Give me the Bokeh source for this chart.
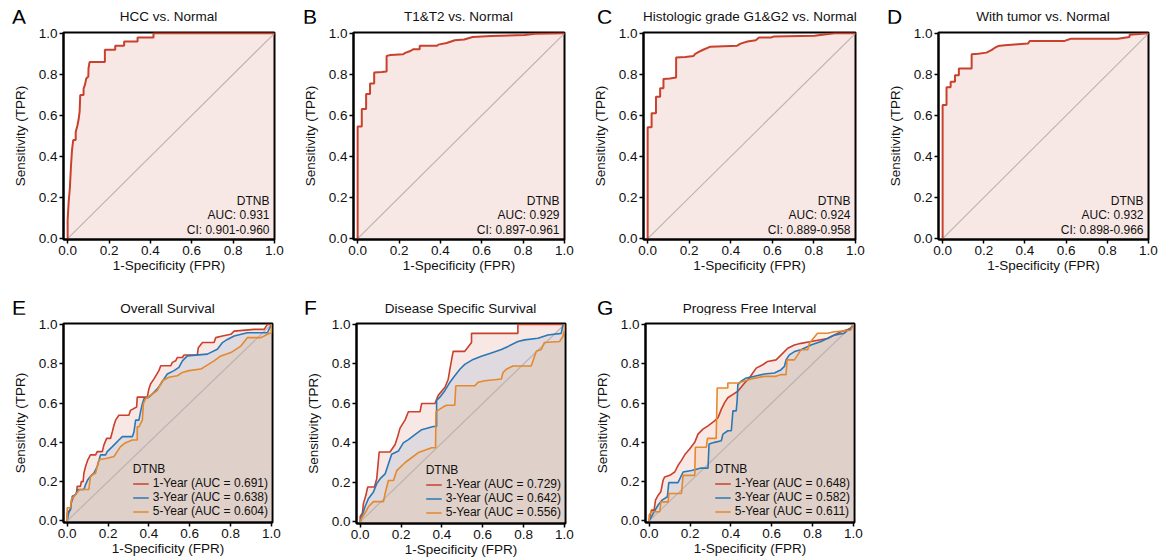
from bokeh.plotting import figure
from bokeh.layouts import column, row
from bokeh.models import (Label, Legend, LegendItem, FixedTicker,
                          PrintfTickFormatter, Range1d, Div)
from bokeh.embed import file_html
from bokeh.resources import INLINE

# ---------------- data (fpr, tpr) ----------------
LETTERS = ["A", "B", "C", "D", "E", "F", "G"]
TITLES = ["HCC vs. Normal", "T1&amp;T2 vs. Normal", "Histologic grade G1&amp;G2 vs. Normal",
          "With tumor vs. Normal", "Overall Survival", "Disease Specific Survival",
          "Progress Free Interval"]
MARKER = "DTNB"
TOP_AUC = ["AUC: 0.931", "AUC: 0.929", "AUC: 0.924", "AUC: 0.932"]
TOP_CI = ["CI: 0.901-0.960", "CI: 0.897-0.961", "CI: 0.889-0.958", "CI: 0.898-0.966"]
YEAR_LABELS = {
    "E": ["1-Year (AUC = 0.691)", "3-Year (AUC = 0.638)", "5-Year (AUC = 0.604)"],
    "F": ["1-Year (AUC = 0.729)", "3-Year (AUC = 0.642)", "5-Year (AUC = 0.556)"],
    "G": ["1-Year (AUC = 0.648)", "3-Year (AUC = 0.582)", "5-Year (AUC = 0.611)"],
}
TICKS = [0.0, 0.2, 0.4, 0.6, 0.8, 1.0]

A_FPR = [0, 0, 0.005, 0.011, 0.016, 0.021, 0.027, 0.039, 0.039, 0.047, 0.053, 0.058, 0.061,
         0.077, 0.077, 0.084, 0.090, 0.100, 0.101, 0.106, 0.180, 0.180, 0.230, 0.230, 0.273,
         0.273, 0.338, 0.338, 0.415, 0.415, 1.0]
A_TPR = [0, 0.09, 0.18, 0.25, 0.35, 0.43, 0.48, 0.48, 0.52, 0.55, 0.58, 0.62, 0.70, 0.70,
         0.73, 0.75, 0.78, 0.79, 0.83, 0.86, 0.86, 0.92, 0.92, 0.94, 0.94, 0.96, 0.96, 0.98,
         0.98, 1.0, 1.0]

B_FPR = [0, 0, 0.02, 0.02, 0.041, 0.041, 0.06, 0.06, 0.08, 0.08, 0.117, 0.14, 0.14, 0.16,
         0.22, 0.23, 0.255, 0.268, 0.30, 0.30, 0.385, 0.39, 0.43, 0.47, 0.515, 0.556, 0.646,
         0.808, 0.857, 1.0]
B_TPR = [0, 0.546, 0.546, 0.632, 0.632, 0.704, 0.704, 0.756, 0.756, 0.809, 0.812, 0.814,
         0.890, 0.895, 0.898, 0.905, 0.914, 0.922, 0.922, 0.940, 0.940, 0.945, 0.953, 0.966,
         0.970, 0.982, 0.987, 0.992, 0.998, 1.0]

C_FPR = [0, 0, 0.019, 0.019, 0.040, 0.040, 0.060, 0.060, 0.076, 0.076, 0.108, 0.137, 0.137,
         0.181, 0.221, 0.229, 0.246, 0.267, 0.302, 0.431, 0.447, 0.480, 0.520, 0.536, 0.593,
         0.609, 0.803, 0.859, 0.90, 1.0]
C_TPR = [0, 0.543, 0.543, 0.611, 0.611, 0.691, 0.691, 0.732, 0.732, 0.777, 0.780, 0.785,
         0.882, 0.885, 0.890, 0.900, 0.910, 0.920, 0.935, 0.940, 0.950, 0.960, 0.966, 0.980,
         0.980, 0.985, 0.988, 0.995, 1.0, 1.0]

D_FPR = [0, 0, 0.019, 0.019, 0.039, 0.039, 0.060, 0.060, 0.079, 0.079, 0.141, 0.141, 0.173,
         0.213, 0.237, 0.254, 0.270, 0.302, 0.367, 0.415, 0.423, 0.593, 0.609, 0.625, 0.851,
         0.908, 0.908, 1.0]
D_TPR = [0, 0.651, 0.651, 0.737, 0.737, 0.764, 0.764, 0.796, 0.796, 0.829, 0.829, 0.898,
         0.901, 0.906, 0.918, 0.930, 0.938, 0.942, 0.947, 0.950, 0.963, 0.963, 0.969, 0.974,
         0.974, 0.982, 0.993, 1.0]

E_1YEAR = [(0, 0), (0, 0.04), (0.016, 0.059), (0.021, 0.10), (0.033, 0.126), (0.046, 0.143),
           (0.049, 0.176), (0.065, 0.176), (0.069, 0.20), (0.078, 0.20), (0.082, 0.244),
           (0.090, 0.277), (0.101, 0.311), (0.114, 0.336), (0.139, 0.336), (0.147, 0.353),
           (0.172, 0.353), (0.180, 0.387), (0.193, 0.42), (0.212, 0.42), (0.221, 0.454),
           (0.229, 0.487), (0.237, 0.513), (0.253, 0.538), (0.302, 0.538), (0.310, 0.563),
           (0.340, 0.58), (0.343, 0.63), (0.392, 0.63), (0.400, 0.672), (0.408, 0.697),
           (0.425, 0.723), (0.449, 0.765), (0.458, 0.79), (0.507, 0.79), (0.515, 0.807),
           (0.531, 0.815), (0.539, 0.832), (0.564, 0.832), (0.572, 0.845), (0.637, 0.845),
           (0.642, 0.882), (0.662, 0.908), (0.719, 0.908), (0.727, 0.933), (0.760, 0.941),
           (0.801, 0.95), (0.817, 0.966), (0.915, 0.975), (0.964, 0.975), (0.980, 1.0),
           (1.0, 1.0)]
E_3YEAR = [(0, 0), (0.008, 0.042), (0.016, 0.059), (0.025, 0.126), (0.041, 0.134),
           (0.052, 0.160), (0.082, 0.160), (0.090, 0.185), (0.101, 0.210), (0.114, 0.227),
           (0.131, 0.244), (0.147, 0.277), (0.163, 0.336), (0.188, 0.336), (0.196, 0.353),
           (0.221, 0.378), (0.237, 0.395), (0.253, 0.412), (0.270, 0.429), (0.319, 0.429),
           (0.327, 0.454), (0.335, 0.513), (0.351, 0.513), (0.359, 0.555), (0.368, 0.597),
           (0.376, 0.622), (0.400, 0.630), (0.417, 0.647), (0.441, 0.672), (0.458, 0.697),
           (0.474, 0.723), (0.490, 0.748), (0.523, 0.765), (0.547, 0.782), (0.564, 0.815),
           (0.588, 0.840), (0.686, 0.849), (0.735, 0.874), (0.760, 0.908), (0.784, 0.924),
           (0.817, 0.941), (0.882, 0.958), (0.980, 0.958), (1.0, 1.0)]
E_5YEAR = [(0, 0), (0, 0.067), (0.016, 0.067), (0.021, 0.11), (0.041, 0.134), (0.062, 0.16),
           (0.106, 0.16), (0.114, 0.227), (0.139, 0.244), (0.155, 0.311), (0.196, 0.319),
           (0.229, 0.328), (0.261, 0.378), (0.281, 0.395), (0.319, 0.412), (0.343, 0.412),
           (0.343, 0.479), (0.351, 0.479), (0.368, 0.513), (0.373, 0.597), (0.384, 0.622),
           (0.408, 0.639), (0.441, 0.664), (0.466, 0.714), (0.498, 0.731), (0.539, 0.739),
           (0.564, 0.756), (0.596, 0.765), (0.654, 0.773), (0.719, 0.815), (0.752, 0.840),
           (0.801, 0.857), (0.850, 0.890), (0.882, 0.933), (0.948, 0.933), (0.964, 0.941),
           (0.980, 0.950), (1.0, 0.958), (1.0, 1.0)]

F_1YEAR = [(0, 0), (0, 0.028), (0.011, 0.045), (0.016, 0.094), (0.028, 0.136), (0.037, 0.177),
           (0.070, 0.177), (0.081, 0.219), (0.093, 0.354), (0.146, 0.354), (0.171, 0.392),
           (0.184, 0.434), (0.195, 0.475), (0.220, 0.517), (0.236, 0.558), (0.293, 0.558),
           (0.301, 0.600), (0.366, 0.600), (0.382, 0.641), (0.415, 0.682), (0.431, 0.723),
           (0.439, 0.773), (0.455, 0.864), (0.512, 0.864), (0.545, 0.909), (0.545, 0.955),
           (0.772, 0.955), (0.772, 1.0), (1.0, 1.0)]
F_3YEAR = [(0, 0), (0.011, 0.036), (0.024, 0.078), (0.041, 0.119), (0.065, 0.152),
           (0.081, 0.194), (0.098, 0.219), (0.122, 0.243), (0.154, 0.343), (0.187, 0.359),
           (0.211, 0.400), (0.236, 0.417), (0.268, 0.442), (0.301, 0.467), (0.358, 0.483),
           (0.374, 0.483), (0.374, 0.616), (0.390, 0.632), (0.415, 0.666), (0.439, 0.707),
           (0.463, 0.740), (0.488, 0.773), (0.512, 0.798), (0.553, 0.823), (0.593, 0.839),
           (0.642, 0.856), (0.691, 0.873), (0.724, 0.889), (0.772, 0.914), (0.805, 0.922),
           (0.870, 0.930), (0.919, 0.947), (0.984, 0.955), (0.992, 0.997), (1.0, 1.0)]
F_5YEAR = [(0, 0), (0.008, 0.02), (0.024, 0.045), (0.041, 0.078), (0.065, 0.103),
           (0.114, 0.103), (0.122, 0.144), (0.138, 0.21), (0.163, 0.21), (0.179, 0.26),
           (0.220, 0.301), (0.285, 0.351), (0.350, 0.376), (0.369, 0.376), (0.371, 0.558),
           (0.382, 0.566), (0.407, 0.583), (0.423, 0.591), (0.463, 0.591), (0.468, 0.690),
           (0.561, 0.690), (0.577, 0.707), (0.610, 0.715), (0.691, 0.724), (0.699, 0.757),
           (0.715, 0.773), (0.748, 0.790), (0.837, 0.790), (0.862, 0.864), (0.886, 0.873),
           (0.902, 0.909), (0.976, 0.914), (0.992, 0.939), (1.0, 0.972), (1.0, 1.0)]

G_1YEAR = [(0, 0), (0.003, 0.022), (0.011, 0.055), (0.024, 0.055), (0.031, 0.106),
           (0.044, 0.131), (0.057, 0.148), (0.068, 0.207), (0.076, 0.224), (0.101, 0.232),
           (0.125, 0.249), (0.141, 0.282), (0.158, 0.308), (0.177, 0.341), (0.198, 0.366),
           (0.223, 0.400), (0.239, 0.442), (0.263, 0.467), (0.288, 0.484), (0.320, 0.509),
           (0.337, 0.526), (0.353, 0.568), (0.369, 0.602), (0.385, 0.627), (0.410, 0.644),
           (0.434, 0.660), (0.467, 0.702), (0.491, 0.728), (0.507, 0.753), (0.524, 0.778),
           (0.556, 0.795), (0.580, 0.812), (0.621, 0.820), (0.646, 0.845), (0.678, 0.879),
           (0.711, 0.896), (0.743, 0.904), (0.792, 0.913), (0.873, 0.929), (0.938, 0.963),
           (0.987, 0.980), (1.0, 1.0)]
G_3YEAR = [(0, 0), (0.020, 0.039), (0.044, 0.081), (0.063, 0.106), (0.089, 0.123),
           (0.096, 0.195), (0.141, 0.195), (0.166, 0.249), (0.207, 0.257), (0.255, 0.269),
           (0.288, 0.269), (0.293, 0.392), (0.320, 0.400), (0.353, 0.408), (0.361, 0.442),
           (0.385, 0.459), (0.402, 0.459), (0.410, 0.560), (0.426, 0.560), (0.431, 0.618),
           (0.434, 0.694), (0.450, 0.711), (0.475, 0.728), (0.515, 0.736), (0.564, 0.748),
           (0.613, 0.753), (0.646, 0.770), (0.662, 0.787), (0.670, 0.820), (0.686, 0.845),
           (0.711, 0.862), (0.743, 0.871), (0.792, 0.896), (0.841, 0.913), (0.906, 0.946),
           (0.954, 0.955), (0.971, 0.971), (0.987, 0.980), (1.0, 1.0)]
G_5YEAR = [(0, 0), (0, 0.03), (0.011, 0.047), (0.052, 0.047), (0.057, 0.097), (0.093, 0.097),
           (0.096, 0.14), (0.158, 0.14), (0.166, 0.232), (0.223, 0.232), (0.226, 0.375),
           (0.280, 0.375), (0.285, 0.42), (0.328, 0.42), (0.333, 0.677), (0.385, 0.677),
           (0.385, 0.702), (0.434, 0.702), (0.499, 0.723), (0.564, 0.736), (0.621, 0.736),
           (0.646, 0.745), (0.670, 0.745), (0.675, 0.820), (0.711, 0.820), (0.743, 0.871),
           (0.776, 0.871), (0.784, 0.904), (0.824, 0.955), (0.873, 0.955), (0.906, 0.963),
           (0.987, 0.971), (1.0, 1.0)]

# ---------------- styling ----------------
FONT = "Liberation Sans"
RED = "#c9402c"
BLUE = "#2b78b4"
ORANGE = "#e4892f"
DIAG = "#bdb3b3"
TXT = "#111111"
FIG_TOP = 9  # white strip kept inside each figure above its frame


def base_fig(width, height, left, right, bottom, xr, yr):
    p = figure(width=width, height=height, x_range=Range1d(*xr), y_range=Range1d(*yr),
               output_backend="svg", toolbar_location=None,
               min_border_left=left, min_border_right=right,
               min_border_top=FIG_TOP, min_border_bottom=bottom)
    p.grid.visible = False
    p.outline_line_color = "black"
    p.outline_line_width = 2
    p.outline_line_alpha = 1
    p.background_fill_color = "white"
    p.border_fill_color = "white"
    for ax in (p.xaxis[0], p.yaxis[0]):
        ax.ticker = FixedTicker(ticks=TICKS)
        ax.formatter = PrintfTickFormatter(format="%.1f")
        ax.minor_tick_line_color = None
        ax.major_tick_in = 0
        ax.major_tick_out = 4
        ax.major_tick_line_color = "black"
        ax.major_tick_line_width = 1.5
        ax.axis_line_color = "black"
        ax.axis_line_width = 2
        ax.major_label_text_font = FONT
        ax.major_label_text_font_size = "13.5px"
        ax.major_label_text_color = TXT
        ax.major_label_standoff = 2
        ax.axis_label_text_font = FONT
        ax.axis_label_text_font_size = "13.5px"
        ax.axis_label_text_font_style = "normal"
        ax.axis_label_text_color = TXT
    p.xaxis.axis_label = "1-Specificity (FPR)"
    p.yaxis.axis_label = "Sensitivity (TPR)"
    p.xaxis.axis_label_standoff = 0
    p.yaxis.axis_label_standoff = 8
    return p


def header_div(i, width, left, right, height, letter_x, t_letter, t_title):
    frame_w = width - left - right
    html = (
        f'<div style="position:relative;width:{width}px;height:{height}px;'
        f'font-family:\'Liberation Sans\';color:#111">'
        f'<span style="position:absolute;left:{letter_x}px;top:{t_letter}px;font-size:21px;'
        f'line-height:1;color:#000">{LETTERS[i]}</span>'
        f'<span style="position:absolute;left:{left}px;width:{frame_w}px;top:{t_title}px;'
        f'text-align:center;font-size:13.5px;line-height:1;white-space:nowrap">{TITLES[i]}</span>'
        f'</div>')
    return Div(text=html, width=width, height=height, margin=0)


def top_panel(i, fpr, tpr, width, left, right, letter_x):
    top = 32
    xr, yr = (-0.02, 1.0), (-0.004, 1.004)
    p = base_fig(width, 280 - top + FIG_TOP, left, right, 41, xr, yr)
    p.varea(x=fpr, y1=0, y2=tpr, fill_color=RED, fill_alpha=0.12)
    p.line([0, 1], [0, 1], line_color=DIAG, line_width=1.2)
    p.line(fpr, tpr, line_color=RED, line_width=2)
    for txt, off in ((MARKER, 39), (TOP_AUC[i], 24.5), (TOP_CI[i], 10)):
        p.add_layout(Label(x=xr[1], y=yr[0], x_offset=-5, y_offset=off, text=txt,
                           text_align="right", text_baseline="middle",
                           text_font=FONT, text_font_size="12px", text_color=TXT))
    hdr = header_div(i, width, left, right, top - FIG_TOP, letter_x, 6, 10)
    return column(hdr, p, spacing=0)


def bottom_panel(i, key, curves, width, left, right, bottom, letter_x):
    top = 43
    xr, yr = (-0.018, 1.005), (-0.008, 1.005)
    p = base_fig(width, 280 - top + FIG_TOP, left, right, bottom, xr, yr)
    colors = [RED, BLUE, ORANGE]
    for pts, c in zip(curves, colors):
        fx = [a for a, b in pts]
        ty = [b for a, b in pts]
        p.varea(x=fx, y1=0, y2=ty, fill_color=c, fill_alpha=0.12)
    p.line([0, 1], [0, 1], line_color=DIAG, line_width=1.2)
    items = []
    for pts, c, lab in zip(curves, colors, YEAR_LABELS[key]):
        fx = [a for a, b in pts]
        ty = [b for a, b in pts]
        r = p.line(fx, ty, line_color=c, line_width=1.6)
        items.append(LegendItem(label=lab, renderers=[r]))
    lg = Legend(items=items, location="bottom_right", title=MARKER)
    lg.title_text_font = FONT
    lg.title_text_font_size = "12px"
    lg.title_text_font_style = "normal"
    lg.title_text_color = TXT
    lg.title_text_line_height = 0.9
    lg.title_standoff = 0
    lg.label_text_font = FONT
    lg.label_text_font_size = "12px"
    lg.label_text_color = TXT
    lg.label_text_line_height = 0.9
    lg.label_height = 11
    lg.glyph_height = 11
    lg.glyph_width = 16
    lg.label_standoff = 4
    lg.spacing = 0
    lg.padding = 2
    lg.margin = 2
    lg.background_fill_alpha = 0
    lg.border_line_alpha = 0
    p.add_layout(lg)
    hdr = header_div(i, width, left, right, top - FIG_TOP, letter_x, 17, 22)
    return column(hdr, p, spacing=0)


pA = top_panel(0, A_FPR, A_TPR, 290, 63, 16, 12)
pB = top_panel(1, B_FPR, B_TPR, 290, 63, 16, 13)
pC = top_panel(2, C_FPR, C_TPR, 290, 63, 15, 17)
pD = top_panel(3, D_FPR, D_TPR, 289, 68, 11, 17)
pE = bottom_panel(4, "E", [E_1YEAR, E_3YEAR, E_5YEAR], 290, 63, 18, 38, 12)
pF = bottom_panel(5, "F", [F_1YEAR, F_3YEAR, F_5YEAR], 290, 66, 15, 37, 14)
pG = bottom_panel(6, "G", [G_1YEAR, G_3YEAR, G_5YEAR], 290, 65, 16, 38, 17)

layout = column(row(pA, pB, pC, pD, spacing=0), row(pE, pF, pG, spacing=0), spacing=0)
open("out.html", "w").write(file_html(layout, INLINE))
